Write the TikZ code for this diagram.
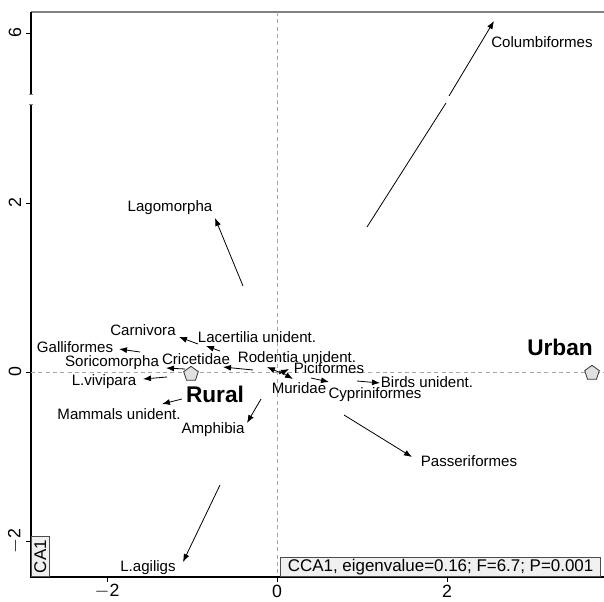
\documentclass[tikz,border=0pt]{standalone}
\usepackage{fontspec}
\setmainfont{Liberation Sans}
\usetikzlibrary{arrows.meta,shapes.geometric,calc}
\begin{document}
\begin{tikzpicture}[x=0.75pt,y=-0.75pt,
  lbl/.style={inner sep=0pt,font=\fontsize{11.3pt}{12pt}\selectfont},
  big/.style={inner sep=0pt,font=\fontsize{17pt}{18pt}\selectfont\bfseries},
  tick/.style={inner sep=0pt,font=\fontsize{13.3pt}{14pt}\selectfont},
  boxtxt/.style={inner sep=0pt,font=\fontsize{12.7pt}{14pt}\selectfont},
  arr/.style={-{Latex[length=6pt,width=4.5pt]},line width=0.6pt},
  seg/.style={line width=0.6pt},
  grid/.style={gray!70,dashed,dash pattern=on 3pt off 2.5pt,line width=0.6pt},
  site/.style={regular polygon,regular polygon sides=5,draw=black!80,fill=black!12,minimum size=11.5pt,inner sep=0pt,line width=0.6pt},
  infobox/.style={draw=black!70,fill=black!6,inner sep=0pt,line width=0.6pt}
]
\useasboundingbox (0,0) rectangle (604,602);
% frame
\coordinate (tl) at (31,12); \coordinate (tr) at (604,12);
\coordinate (bl) at (31,577); \coordinate (br) at (604,577);
\coordinate (brkA) at (31,94); \coordinate (brkB) at (31,104);
\draw[gray,line width=1.5pt] (tl) -- (tr);
\draw[line width=0.8pt] (tl) -- (brkA);
\draw[line width=0.8pt] (brkB) -- (bl) -- (br);
\draw[gray,line width=0.6pt] ($(brkA)+(-2,0)$) -- ($(brkA)+(2,0)$);
\draw[gray,line width=0.6pt] ($(brkB)+(-2,0)$) -- ($(brkB)+(2,0)$);
% grid lines
\coordinate (vT) at (277,12); \coordinate (vB) at (277,577);
\coordinate (hL) at (31,372); \coordinate (hR) at (604,372);
\draw[grid] (vT) -- (vB);
\draw[grid] (hL) -- (hR);
% ticks
\foreach \y/\t in {33/6,203/2,372/0,541/{$-$2}}{
  \draw[line width=0.6pt] (26,\y) -- (31,\y);
  \node[tick,rotate=90] at (15,\y) {\t};
}
\foreach \x/\t in {107/{$-$2},277/0,447/2}{
  \draw[line width=0.6pt] (\x,577) -- (\x,582);
  \node[tick] at (\x,591) {\t};
}
% boxes
\node[infobox,minimum width=13.5pt,minimum height=30pt,anchor=south west] (ca) at (31,577) {};
\node[boxtxt,rotate=90] at (ca.center) {CA1};
\node[infobox,anchor=south east,minimum width=240pt,minimum height=14.3pt] (cca) at (601,577) {};
\node[boxtxt] at (cca.center) {CCA1, eigenvalue=0.16; F=6.7; P=0.001};
% sites
\node[site] (rural) at (191,374) {};
\node[site] (urban) at (592,373) {};
\node[big] (ruralL) at (215,394) {Rural};
\node[big] (urbanL) at (560,347) {Urban};
% arrows
\coordinate (colS) at (367,227); \coordinate (colM) at (446,103);
\coordinate (colN) at (449,96); \coordinate (colE) at (494,21);
\draw[seg] (colS) -- (colM);
\draw[arr] (colN) -- (colE);
\node[lbl] (colL) at (542,42) {Columbiformes};

\coordinate (lagS) at (243,286); \coordinate (lagE) at (215,218);
\draw[arr] (lagS) -- (lagE);
\node[lbl] (lagL) at (170,208) {Lagomorpha};

\coordinate (carS) at (198,344); \coordinate (carE) at (179,337);
\draw[arr] (carS) -- (carE);
\node[lbl] (carL) at (143,330) {Carnivora};

\coordinate (lacS) at (220,351); \coordinate (lacE) at (206,346);
\draw[arr] (lacS) -- (lacE);
\node[lbl] (lacL) at (257,337) {Lacertilia unident.};

\coordinate (galS) at (140,352); \coordinate (galE) at (119,349);
\draw[arr] (galS) -- (galE);
\node[lbl] (galL) at (75,347) {Galliformes};

\coordinate (criS) at (253,370); \coordinate (criE) at (223,367);
\draw[arr] (criS) -- (criE);
\node[lbl] (criL) at (196,359) {Cricetidae};

\coordinate (sorS) at (185,369); \coordinate (sorE) at (166,368);
\draw[arr] (sorS) -- (sorE);
\node[lbl] (sorL) at (112,363) {Soricomorpha};

\coordinate (vivS) at (167,377); \coordinate (vivE) at (143,379);
\draw[arr] (vivS) -- (vivE);
\node[lbl] (vivL) at (104,382) {L.vivipara};

\coordinate (mamS) at (182,399); \coordinate (mamE) at (162,404);
\draw[arr] (mamS) -- (mamE);
\node[lbl] (mamL) at (119,414) {Mammals unident.};

\coordinate (ampS) at (261,399); \coordinate (ampE) at (247,423);
\draw[arr] (ampS) -- (ampE);
\node[lbl] (ampL) at (213,430) {Amphibia};

\coordinate (rodS) at (281,373); \coordinate (rodE) at (267,367);
\draw[arr] (rodS) -- (rodE);
\node[lbl] (rodL) at (297,357) {Rodentia unident.};

\coordinate (murS) at (279,371); \coordinate (murE) at (293,379);
\draw[arr] (murS) -- (murE);
\node[lbl] (murL) at (299,388) {Muridae};

\coordinate (picS) at (279,374); \coordinate (picE) at (289,369);
\draw[arr] (picS) -- (picE);
\node[lbl] (picL) at (329,368) {Piciformes};

\coordinate (cypS) at (311,378); \coordinate (cypE) at (329,382);
\draw[arr] (cypS) -- (cypE);
\node[lbl] (cypL) at (375,395) {Cypriniformes};

\coordinate (birS) at (357,381); \coordinate (birE) at (380,383);
\draw[arr] (birS) -- (birE);
\node[lbl] (birL) at (427,382) {Birds unident.};

\coordinate (pasS) at (344,415); \coordinate (pasE) at (412,457);
\draw[arr] (pasS) -- (pasE);
\node[lbl] (pasL) at (469,461) {Passeriformes};

\coordinate (agiS) at (220,485); \coordinate (agiE) at (183,562);
\draw[arr] (agiS) -- (agiE);
\node[lbl] (agiL) at (148,568) {L.agiligs};
\end{tikzpicture}
\end{document}
